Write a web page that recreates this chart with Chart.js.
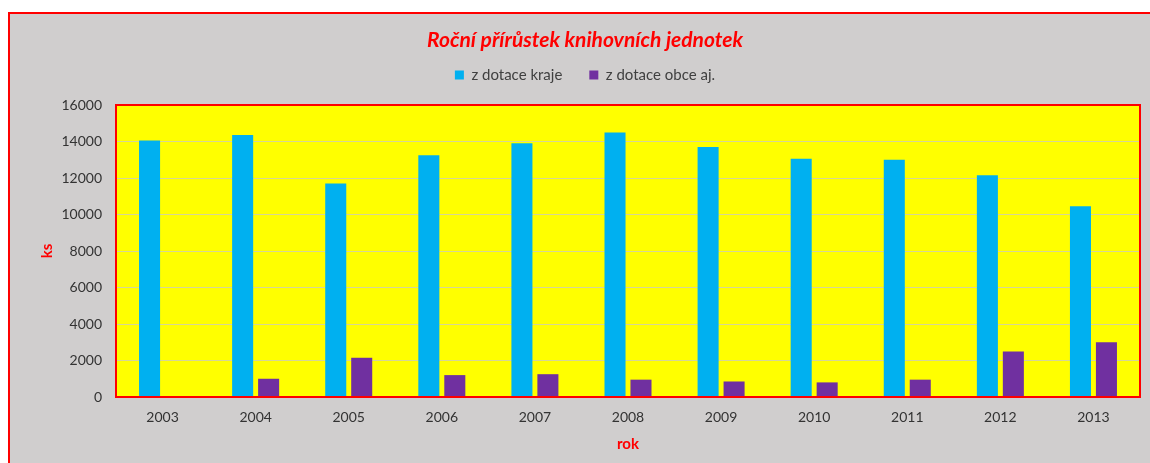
<!DOCTYPE html>
<html>
<head>
<meta charset="utf-8">
<script src="https://cdn.jsdelivr.net/npm/chart.js@4/dist/chart.umd.min.js"></script>
<style>
  html, body { margin: 0; padding: 0; background: #ffffff; width: 1150px; height: 463px; overflow: hidden; }
  #frame { position: absolute; left: 8px; top: 12px; width: 1142px; height: 451px; box-sizing: border-box;
           border-top: 2px solid #ff0000; border-left: 2px solid #ff0000; background: #D0CECE; }
  canvas { display: block; }
</style>
</head>
<body>
<div id="frame"><canvas id="c" width="1140" height="449"></canvas></div>
<script>
const chartTitle = 'Roční přírůstek knihovních jednotek';
const categories = ['2003', '2004', '2005', '2006', '2007', '2008', '2009', '2010', '2011', '2012', '2013'];
const seriesNames = ['z dotace kraje', 'z dotace obce aj.'];
const krajeValues = [14050, 14350, 11700, 13250, 13900, 14500, 13700, 13050, 13000, 12150, 10450];
const obceValues = [0, 1000, 2150, 1200, 1250, 950, 850, 800, 950, 2500, 3000];
const yTitle = 'ks';
const xTitle = 'rok';
const yMin = 0, yMax = 16000, yStep = 2000;

const FONT = 'Lato, "Open Sans", "Liberation Sans", sans-serif';

const plotArea = {
  id: 'plotArea',
  beforeUpdate(chart) {
    const lg = chart.legend;
    if (lg && !lg._wrappedFit) {
      const orig = lg.fit;
      lg.fit = function () { orig.call(this); this.height = 64.5; };
      lg._wrappedFit = true;
    }
  },
  beforeDraw(chart) {
    const a = chart.chartArea, ctx = chart.ctx;
    ctx.save();
    ctx.fillStyle = '#FFFF00';
    ctx.fillRect(a.left, a.top, a.right - a.left, a.bottom - a.top);
    ctx.restore();
  },
  afterDraw(chart) {
    const a = chart.chartArea, ctx = chart.ctx;
    ctx.save();
    ctx.strokeStyle = '#FF0000';
    ctx.lineWidth = 2;
    ctx.strokeRect(a.left, a.top, a.right - a.left, a.bottom - a.top);
    ctx.restore();
  }
};

new Chart(document.getElementById('c'), {
  type: 'bar',
  data: {
    labels: categories,
    datasets: [
      { label: seriesNames[0], data: krajeValues, backgroundColor: '#00B0F0', borderWidth: 0,
        categoryPercentage: 0.558, barPercentage: 0.81 },
      { label: seriesNames[1], data: obceValues, backgroundColor: '#7030A0', borderWidth: 0,
        categoryPercentage: 0.558, barPercentage: 0.81 }
    ]
  },
  options: {
    responsive: false,
    animation: false,
    devicePixelRatio: 1,
    layout: { padding: { left: 20, right: 10, top: 0, bottom: 0 } },
    plugins: {
      title: {
        display: true, text: chartTitle, color: '#FF0000',
        font: { family: FONT, size: 21, weight: 'bold', style: 'italic', lineHeight: 1.2 },
        padding: { top: 13.4, bottom: -12.1 }
      },
      legend: {
        display: true, position: 'top',
        labels: { boxWidth: 9, boxHeight: 9, padding: 27, color: '#404040',
                  font: { family: FONT, size: 15, lineHeight: 1.2 } }
      },
      tooltip: { enabled: false }
    },
    scales: {
      x: {
        grid: { display: false, drawTicks: false },
        border: { display: false },
        ticks: { color: '#333333', padding: 12, font: { family: FONT, size: 14, lineHeight: 1.2 }, maxRotation: 0 },
        title: { display: true, text: xTitle, color: '#FF0000', padding: { top: 0, bottom: 10 },
                 font: { family: FONT, size: 15, weight: 'bold', lineHeight: 1.2 } },
        afterFit(scale) { scale.height = 66; }
      },
      y: {
        min: yMin, max: yMax,
        grid: { color: 'rgba(200,200,200,0.75)', lineWidth: 1, drawTicks: false },
        border: { display: false },
        ticks: { stepSize: yStep, color: '#333333', padding: 14,
                 font: { family: FONT, size: 14, lineHeight: 1.2 },
                 callback: (v) => String(v) },
        title: { display: true, text: yTitle, color: '#FF0000', padding: { top: 8, bottom: 0 },
                 font: { family: FONT, size: 15, weight: 'bold', lineHeight: 1.2 } },
        afterFit(scale) { scale.width = 86; }
      }
    }
  },
  plugins: [plotArea]
});
</script>
</body>
</html>
